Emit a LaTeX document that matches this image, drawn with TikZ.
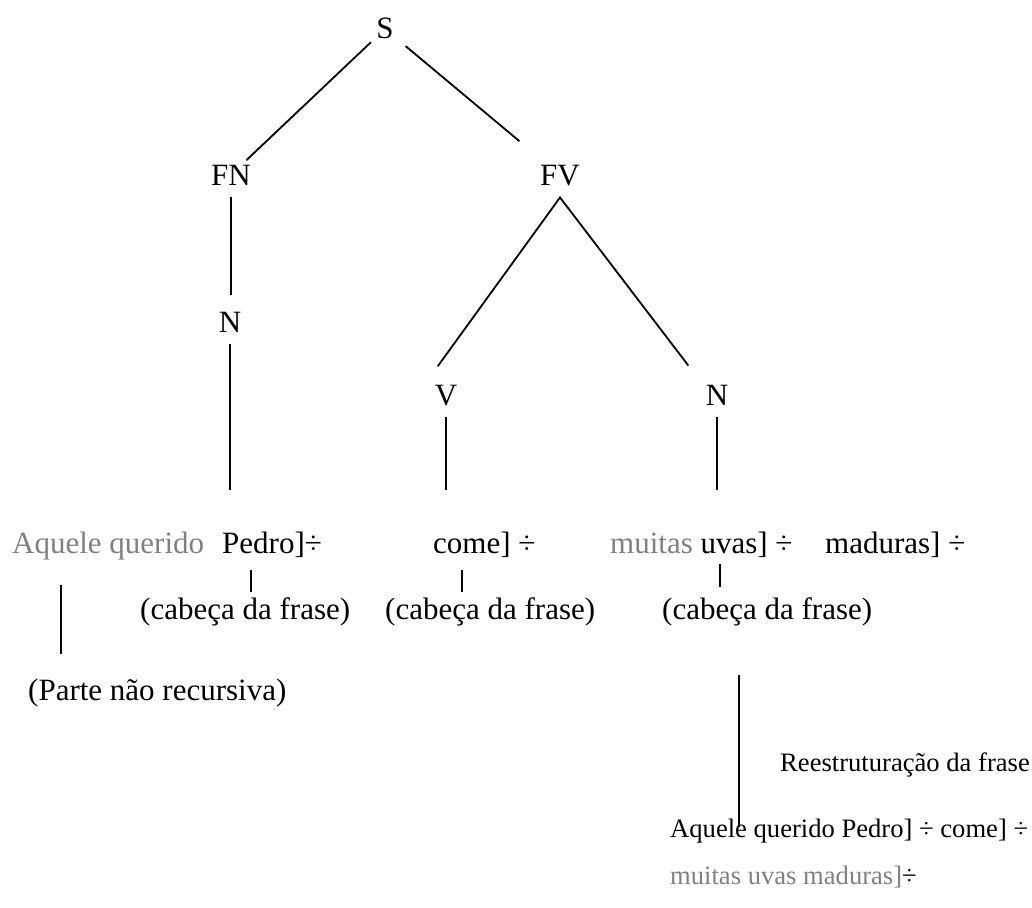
\documentclass[tikz,border=0pt]{standalone}
\usepackage{fontspec}
\setmainfont{Liberation Serif}
\usepackage{xcolor}
\definecolor{greytext}{HTML}{808080}

\begin{document}
\begin{tikzpicture}[
  x=1pt, y=-1pt,
  cat/.style={font=\fontsize{31}{37}\selectfont, inner sep=0pt, outer sep=12pt, anchor=base},
  word/.style={font=\fontsize{31}{37}\selectfont, inner sep=0pt, anchor=base west},
  note/.style={font=\fontsize{26.6}{32}\selectfont, inner sep=0pt, anchor=base west},
  branch/.style={line width=1.8pt}
  ]
  \useasboundingbox (0,0) rectangle (1032,907);

  % categories
  \node[cat] (S) at (385,39) {S};
  \node[cat] (FN) at (231,185) {FN};
  \node[cat] (FV) at (560,185) {FV};
  \node[cat] (N1) at (230,332) {N};
  \node[cat] (V) at (446,405) {V};
  \node[cat] (N2) at (717,405) {N};

  % words
  \node[word, text=greytext] (aquele) at (12,553) {Aquele querido};
  \node[word] (pedro) at (222,553) {Pedro]÷};
  \node[word] (come) at (433,553) {come] ÷};
  \node[word] (uvas) at (610,553) {\textcolor{greytext}{muitas} uvas] ÷};
  \node[word] (maduras) at (825,553) {maduras] ÷};

  % notes under the words
  \node[word] (cab1) at (140,619) {(cabeça da frase)};
  \node[word] (cab2) at (385,619) {(cabeça da frase)};
  \node[word] (cab3) at (662,619) {(cabeça da frase)};
  \node[word] (parte) at (28,700) {(Parte não recursiva)};

  \node[note] (reestr) at (780,771) {Reestruturação da frase};
  \node[note] (frase1) at (670,837) {Aquele querido Pedro] ÷ come] ÷};
  \node[note, text=greytext] (frase2) at (670,884) {muitas uvas maduras]\textcolor{black}{÷}};

  % branches
  \draw[branch, shorten <=-9pt, shorten >=-11pt] (S) -- (FN);
  \draw[branch, shorten >=18pt] (S) -- (FV);
  \draw[branch, shorten >=5pt] (FN.south) -- (FN.south |- N1.north);
  \draw[branch, shorten <=8pt, shorten >=9pt] (V.120) -- (FV.south) -- (N2.north west);

  \draw[branch, shorten >=41pt] (N1.south) -- (N1.south |- pedro.north);
  \draw[branch, shorten >=41pt] (V.south) -- (V.south |- come.north);
  \draw[branch, shorten >=41pt] (N2.south) -- (N2.south |- uvas.north);

  \draw[branch, shorten <=13pt, shorten >=5pt] ([xshift=29pt]pedro.south west) -- ([xshift=29pt]pedro.south west |- cab1.north);
  \draw[branch, shorten <=13pt, shorten >=5pt] ([xshift=29pt]come.south west) -- ([xshift=29pt]come.south west |- cab2.north);
  \draw[branch, shorten <=7pt, shorten >=10pt] ([xshift=110pt]uvas.south west) -- ([xshift=110pt]uvas.south west |- cab3.north);

  \draw[branch, shorten <=25pt, shorten >=24pt] ([xshift=49pt]aquele.south west) -- ([xshift=49pt]aquele.south west |- parte.north);
  \draw[branch, shorten <=49pt, shorten >=-9pt] ([xshift=77pt]cab3.south west) -- ([xshift=77pt]cab3.south west |- frase1.north);
\end{tikzpicture}
\end{document}
